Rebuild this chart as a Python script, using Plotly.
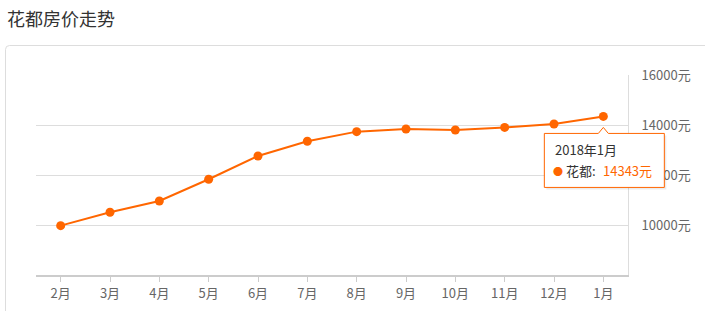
import plotly.graph_objects as go

months = ['2月', '3月', '4月', '5月', '6月', '7月', '8月', '9月', '10月', '11月', '12月', '1月']
prices = [9975, 10510, 10960, 11830, 12760, 13350, 13735, 13840, 13800, 13905, 14040, 14343]
y_ticks = [10000, 12000, 14000, 16000]
y_labels = [f'{v}元' for v in y_ticks]
y_range = [8000, 16000]
title_text = '花都房价走势'
tip_date = '2018年1月'
series_name = '花都'

ORANGE = '#ff6600'
W, H = 705, 311
L, R, T, B = 36, 77, 75, 36
pw, ph = W - L - R, H - T - B
FONT = 'Noto Sans CJK SC, Noto Sans, sans-serif'


def px_x(x):
    return (x - L) / pw


def px_y(y):
    return (H - B - y) / ph


fig = go.Figure()
fig.add_trace(go.Scatter(
    x=months, y=prices, mode='lines+markers',
    line=dict(color=ORANGE, width=2),
    marker=dict(color=ORANGE, size=9),
    hoverinfo='skip', showlegend=False,
))

# card outline with rounded corner
x0, y0 = px_x(5.5), px_y(45.5)
x1, y1 = px_x(740), px_y(340)
rx, ry = 4 / pw, 4 / ph
card_path = (f'M {x0},{y1} L {x0},{y0 - ry} Q {x0},{y0} {x0 + rx},{y0} '
             f'L {x1},{y0}')
shapes = [dict(type='path', xref='paper', yref='paper', path=card_path,
               line=dict(color='#dddddd', width=1), layer='below')]

# tooltip anchored to last point (paper coords derived from the data / axis range)
n = len(months)
last_x, last_y = months[-1], prices[-1]
anchor_x = (months.index(last_x) + 0.5) / n
anchor_y = (last_y - y_range[0]) / (y_range[1] - y_range[0])
box = 'M -59,-17 L -5,-17 L 0,-11 L 5,-17 L 61,-17 L 61,-71 L -59,-71 Z'
shadow = 'M -58,-19 L 63,-19 L 63,-73 L -57,-73 Z'
for p, fill, lc, lw in [(shadow, 'rgba(0,0,0,0.08)', 'rgba(0,0,0,0)', 0),
                        (box, 'white', ORANGE, 1)]:
    shapes.append(dict(type='path', xref='paper', yref='paper',
                       xsizemode='pixel', ysizemode='pixel',
                       xanchor=anchor_x, yanchor=anchor_y, path=p,
                       fillcolor=fill, line=dict(color=lc, width=lw),
                       layer='above'))

annotations = [
    dict(x=anchor_x, y=anchor_y, xref='paper', yref='paper', text=tip_date,
         showarrow=False, xanchor='left', yanchor='middle',
         xshift=-50, yshift=-33, font=dict(size=13, color='#333333', family=FONT)),
    dict(x=anchor_x, y=anchor_y, xref='paper', yref='paper',
         text=f'<span style="color:{ORANGE};font-size:10px">●</span> {series_name}:',
         showarrow=False, xanchor='left', yanchor='middle',
         xshift=-52, yshift=-54, font=dict(size=13, color='#333333', family=FONT)),
    dict(x=anchor_x, y=anchor_y, xref='paper', yref='paper', text=f'{last_y}元',
         showarrow=False, xanchor='left', yanchor='middle',
         xshift=-2, yshift=-54, font=dict(size=13, color=ORANGE, family=FONT)),
    dict(x=px_x(5), y=px_y(18), xref='paper', yref='paper', text=title_text,
         showarrow=False, xanchor='left', yanchor='middle',
         font=dict(size=18, color='#333333', family=FONT)),
]

fig.update_layout(
    width=W, height=H,
    margin=dict(l=L, r=R, t=T, b=B, autoexpand=False),
    paper_bgcolor='white', plot_bgcolor='white',
    shapes=shapes, annotations=annotations,
    font=dict(family=FONT, size=13, color='#666666'),
    xaxis=dict(
        type='category', range=[-0.5, n - 0.5], automargin=False,
        showgrid=False, zeroline=False,
        showline=True, linecolor='#cccccc', linewidth=2,
        ticks='outside', ticklen=5, tickcolor='#cccccc', tickwidth=1,
        tickfont=dict(size=13, color='#666666', family=FONT),
        fixedrange=True,
    ),
    yaxis=dict(
        side='right', range=y_range, automargin=False,
        tickvals=y_ticks, ticktext=y_labels,
        showgrid=True, gridcolor='#dddddd', gridwidth=1,
        zeroline=False, showline=True, linecolor='#dddddd', linewidth=1,
        ticks='', ticklabelstandoff=10,
        tickfont=dict(size=13, color='#666666', family=FONT),
        fixedrange=True,
    ),
)

fig.write_html('out.html', config=dict(displayModeBar=False))
